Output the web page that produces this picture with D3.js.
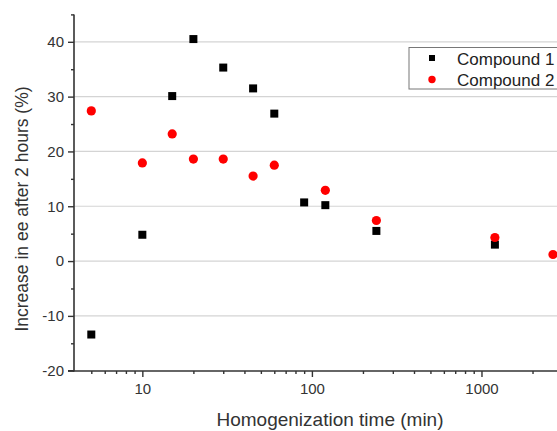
<!DOCTYPE html>
<html><head><meta charset="utf-8">
<script src="https://cdn.jsdelivr.net/npm/d3@7"></script>
<style>body{margin:0;background:#fff}svg{display:block;font-family:"Liberation Sans",Arial,sans-serif}</style>
</head><body><svg id="c" width="557" height="431"></svg>
<script>
const times1 = [5, 10, 15, 20, 30, 45, 60, 90, 120, 240, 1200];
const compound1 = [-13.4, 4.8, 30.1, 40.5, 35.3, 31.5, 26.9, 10.7, 10.2, 5.5, 3.0];
const times2 = [5, 10, 15, 20, 30, 45, 60, 120, 240, 1200, 2640];
const compound2 = [27.4, 17.9, 23.2, 18.6, 18.6, 15.5, 17.5, 12.9, 7.4, 4.3, 1.2];
const seriesNames = ["Compound 1", "Compound 2"];
const xMajorTicks = [10, 100, 1000];
const yMajorTicks = [-20, -10, 0, 10, 20, 30, 40];
const yMinorTicks = [-15, -5, 5, 15, 25, 35, 45];
const xMinorTicks = [5,6,7,8,9,20,30,40,50,60,70,80,90,200,300,400,500,600,700,800,900,2000,3000,4000];

const svg = d3.select("#c");
const x = d3.scaleLog().domain([3.9, 5000]).range([73, 600]);
const y = d3.scaleLinear().domain([-20, 45]).range([370.7, 14.4]);
const axisColor = "#333";
const fmt = d => String(d);

// grid
svg.append("g").selectAll("line").data(yMajorTicks.filter(d => d > -20)).join("line")
  .attr("x1", 74).attr("x2", 557).attr("y1", d => y(d)).attr("y2", d => y(d))
  .attr("stroke", "#d4d4d4").attr("stroke-width", 1.2);

// y axis
const yAxis = svg.append("g").attr("transform", "translate(74,0)")
  .call(d3.axisLeft(y).tickValues(yMajorTicks).tickSize(6).tickPadding(4).tickFormat(fmt));
const yMinor = svg.append("g").attr("transform", "translate(74,0)")
  .call(d3.axisLeft(y).tickValues(yMinorTicks).tickSize(3).tickFormat(""));
// x axis
const xAxis = svg.append("g").attr("transform", "translate(0,371)")
  .call(d3.axisBottom(x).tickValues(xMajorTicks).tickSize(6).tickPadding(6).tickFormat(fmt));
const xMinor = svg.append("g").attr("transform", "translate(0,371)")
  .call(d3.axisBottom(x).tickValues(xMinorTicks).tickSize(3).tickFormat(""));

[yAxis, yMinor, xAxis, xMinor].forEach(g => {
  g.selectAll(".domain").attr("stroke", axisColor).attr("stroke-width", 1.6);
  g.selectAll(".tick line").attr("stroke", axisColor).attr("stroke-width", 1.4);
  g.selectAll("text").attr("fill", "#333").style("font-size", "15px").style("font-family", "Liberation Sans, Arial, sans-serif");
});
yAxis.select(".domain").attr("d", `M-6,${y(-20)}H0V${y(45)}`);
yMinor.select(".domain").remove();
xMinor.select(".domain").remove();
xAxis.select(".domain").attr("d", `M73,0H600`);

// points
svg.append("g").selectAll("rect").data(times1.map((t, i) => [t, compound1[i]])).join("rect")
  .attr("x", d => x(d[0]) - 4).attr("y", d => y(d[1]) - 4).attr("width", 8).attr("height", 8).attr("fill", "#000");
svg.append("g").selectAll("circle").data(times2.map((t, i) => [t, compound2[i]])).join("circle")
  .attr("cx", d => x(d[0])).attr("cy", d => y(d[1])).attr("r", 4.6).attr("fill", "#f00");

// axis titles
svg.append("text").attr("x", 330).attr("y", 426).attr("text-anchor", "middle")
  .attr("fill", "#333").style("font-size", "19px").text("Homogenization time (min)");
svg.append("text").attr("transform", "translate(28,209) rotate(-90)").attr("text-anchor", "middle")
  .attr("fill", "#333").style("font-size", "17.5px").text("Increase in ee after 2 hours (%)");

// legend
const lg = svg.append("g");
lg.append("rect").attr("x", 409).attr("y", 47.5).attr("width", 200).attr("height", 41.5)
  .attr("fill", "#fff").attr("stroke", "#777").attr("stroke-width", 1);
lg.append("rect").attr("x", 429).attr("y", 55).attr("width", 6).attr("height", 6).attr("fill", "#000");
lg.append("circle").attr("cx", 432).attr("cy", 79.5).attr("r", 3.7).attr("fill", "#f00");
lg.append("text").attr("x", 457).attr("y", 64.5).attr("fill", "#222").style("font-size", "17px").text(seriesNames[0]);
lg.append("text").attr("x", 457).attr("y", 85.5).attr("fill", "#222").style("font-size", "17px").text(seriesNames[1]);
</script></body></html>
